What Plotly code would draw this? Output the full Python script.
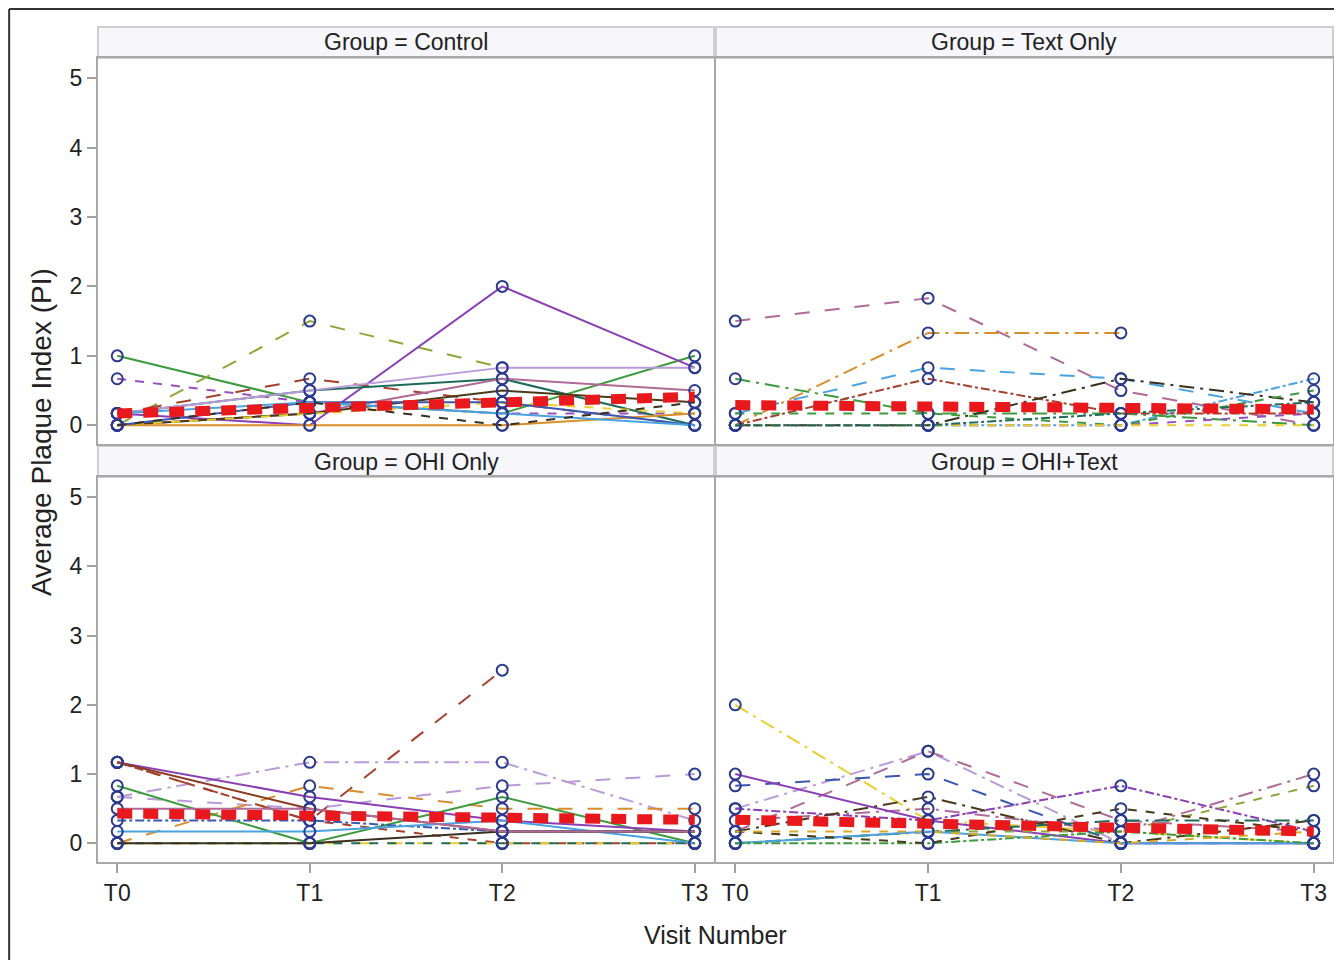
import plotly.graph_objects as go

visits = ["T0", "T1", "T2", "T3"]
y_ticks = [0, 1, 2, 3, 4, 5]
groups = ["Control", "Text Only", "OHI Only", "OHI+Text"]

# subject trajectories (Average Plaque Index) per group
control_pi = [
    [1.0, 0.33, 0.17, 1.0],
    [0.0, 1.5, 0.83, None],
    [0.17, 0.0, 2.0, 0.83],
    [0.67, 0.33, 0.17, 0.17],
    [0.17, 0.67, 0.33, 0.0],
    [0.17, 0.5, 0.67, 0.0],
    [0.0, 0.17, 0.67, 0.5],
    [0.17, 0.5, 0.83, 0.83],
    [0.0, 0.17, 0.5, 0.33],
    [0.0, 0.17, 0.33, 0.17],
    [0.0, 0.0, 0.0, 0.17],
    [0.0, 0.33, 0.33, 0.0],
    [0.17, 0.33, 0.17, 0.0],
    [0.0, 0.33, 0.0, 0.33],
]
text_pi = [
    [1.5, 1.83, 0.5, 0.0],
    [0.0, 1.33, 1.33, None],
    [0.17, 0.83, 0.67, 0.17],
    [0.0, 0.0, 0.0, 0.67],
    [0.67, 0.17, 0.17, 0.0],
    [0.0, 0.67, 0.17, 0.17],
    [0.0, 0.0, 0.67, 0.33],
    [0.17, 0.17, 0.0, 0.5],
    [0.0, 0.0, 0.0, 0.17],
    [0.0, 0.0, 0.0, 0.0],
    [0.0, 0.0, 0.17, 0.33],
]
ohi_pi = [
    [1.17, 0.33, 2.5, None],
    [0.67, 1.17, 1.17, 0.33],
    [0.67, 0.5, 0.83, 1.0],
    [0.0, 0.83, 0.5, 0.5],
    [0.83, 0.0, 0.67, 0.0],
    [1.17, 0.67, 0.33, 0.17],
    [1.17, 0.5, 0.17, 0.17],
    [1.17, 0.33, 0.0, 0.0],
    [0.0, 0.0, 0.0, 0.0],
    [0.33, 0.33, 0.17, 0.17],
    [0.17, 0.17, 0.33, 0.0],
    [0.0, 0.0, 0.0, 0.0],
    [0.0, 0.0, 0.17, 0.17],
    [0.5, 0.5, 0.17, 0.17],
]
ohitext_pi = [
    [2.0, 0.33, 0.17, 0.0],
    [0.5, 1.33, 0.0, 0.0],
    [0.17, 1.33, 0.33, 0.17],
    [0.33, 0.5, 0.17, 1.0],
    [0.5, 0.33, 0.83, 0.17],
    [0.83, 1.0, 0.0, 0.0],
    [1.0, 0.33, 0.0, 0.0],
    [0.17, 0.67, 0.0, 0.33],
    [0.0, 0.17, 0.17, 0.83],
    [0.0, 0.17, 0.33, 0.33],
    [0.0, 0.17, 0.0, 0.0],
    [0.0, 0.0, 0.17, 0.0],
    [0.17, 0.0, 0.5, 0.17],
    [0.17, 0.17, 0.0, 0.17],
]
# group mean trajectories
control_mean = [0.17, 0.26, 0.34, 0.41]
text_mean = [0.29, 0.27, 0.25, 0.23]
ohi_mean = [0.43, 0.40, 0.37, 0.34]
ohitext_mean = [0.34, 0.29, 0.23, 0.17]

# styles
line_colors = ["#3E9A3E", "#8EA63C", "#8B3FB5", "#9A4FC0", "#A3412C", "#1F6B5B",
               "#B06A98", "#B99BD9", "#4A3A1A", "#E6CF2F", "#D88E2A", "#3A58B0",
               "#4AA3E0", "#3A3020"]
line_dashes = ["solid", "longdash", "solid", "dash", "longdash", "solid", "solid",
               "solid", "solid", "dash", "solid", "solid", "solid", "dash"]
text_colors = ["#B06A98", "#D88E2A", "#4AA3E0", "#4AA3E0", "#3E9A3E", "#A3412C",
               "#3A3020", "#3E9A3E", "#9A4FC0", "#E6CF2F", "#1F6B5B"]
text_dashes = ["longdash", "longdashdot", "longdash", "dashdot", "longdashdot", "dashdot",
               "longdashdot", "dash", "dash", "dash", "dashdot"]
ohi_colors = ["#A3412C", "#B99BD9", "#B99BD9", "#D88E2A", "#3E9A3E", "#8B3FB5",
              "#8A3A20", "#A3412C", "#E6CF2F", "#3A58B0", "#4AA3E0", "#1F6B5B",
              "#3A3020", "#B06A98"]
ohi_dashes = ["longdash", "longdashdot", "longdash", "longdash", "solid", "solid",
              "solid", "dash", "longdash", "dashdot", "solid", "dash", "solid", "solid"]
ot_colors = ["#E6CF2F", "#B99BD9", "#B06A98", "#B06A98", "#8B3FB5", "#3A58B0",
             "#8B3FB5", "#4A3A1A", "#8EA63C", "#1F6B5B", "#4AA3E0", "#3E9A3E",
             "#4A3A1A", "#D8A82A"]
ot_dashes = ["longdashdot", "longdashdot", "longdash", "longdashdot", "dashdot", "longdash",
             "solid", "longdashdot", "dash", "longdashdot", "solid", "dashdot",
             "dash", "dash"]

panel_data = [
    (control_pi, control_mean, line_colors, line_dashes),
    (text_pi, text_mean, text_colors, text_dashes),
    (ohi_pi, ohi_mean, ohi_colors, ohi_dashes),
    (ohitext_pi, ohitext_mean, ot_colors, ot_dashes),
]

OFF = 8  # page body margin
W, H = 1342 - OFF, 960 - OFF
ML = 98 - OFF
MT = 27 - OFF
MR = W - (1335 - OFF)
MB = H - (862 - OFF)
PW = W - ML - MR
PH = H - MT - MB


def px_x(p):
    return (p - OFF - ML) / PW


def px_y(p):
    return (H - MB - (p - OFF)) / PH


x_domains = [[px_x(98), px_x(715)], [px_x(717), px_x(1335)]]
y_domains = [[px_y(444), px_y(58)], [px_y(862), px_y(477)]]
header_y = [[px_y(58), px_y(27)], [px_y(477), px_y(446)]]

fig = go.Figure()
FONT = "Liberation Sans, Arial, sans-serif"
marker_color = "#2B3A8F"

layout = dict(
    width=W, height=H,
    margin=dict(l=ML, r=MR, t=MT, b=MB),
    paper_bgcolor="white", plot_bgcolor="white",
    showlegend=False,
    font=dict(family=FONT, size=22, color="#222222"),
)
shapes = []
annotations = []

for i, (subjects, mean, colors, dashes) in enumerate(panel_data):
    r, c = divmod(i, 2)
    idx = i + 1
    xa = "x" if idx == 1 else f"x{idx}"
    ya = "y" if idx == 1 else f"y{idx}"
    for s, vals in enumerate(subjects):
        fig.add_trace(go.Scatter(
            x=[0, 1, 2, 3], y=vals, xaxis=xa, yaxis=ya, mode="lines+markers",
            line=dict(color=colors[s % len(colors)], width=2, dash=dashes[s % len(dashes)]),
            marker=dict(symbol="circle-open", size=11, color=marker_color,
                        line=dict(width=2, color=marker_color)),
            connectgaps=False, hoverinfo="skip"))
    fig.add_trace(go.Scatter(
        x=[0, 1, 2, 3], y=mean, xaxis=xa, yaxis=ya, mode="lines",
        line=dict(color="#E8181C", width=10, dash="15px,11px"), hoverinfo="skip"))

    xkey = "xaxis" if idx == 1 else f"xaxis{idx}"
    ykey = "yaxis" if idx == 1 else f"yaxis{idx}"
    layout[xkey] = dict(
        domain=x_domains[c], range=[-0.1, 3.1], anchor=ya,
        tickvals=[0, 1, 2, 3], ticktext=visits,
        showticklabels=(r == 1), ticks="outside" if r == 1 else "",
        ticklen=9, tickcolor="#A0A0A0", tickwidth=1.5,
        showgrid=False, zeroline=False, showline=True, mirror=True,
        linecolor="#A8A8A8", linewidth=2,
        tickfont=dict(size=23, family=FONT, color="#222222"))
    layout[ykey] = dict(
        domain=y_domains[r], range=[-0.27, 5.29], anchor=xa,
        tickvals=y_ticks, showticklabels=(c == 0), ticks="outside" if c == 0 else "",
        ticklen=9, tickcolor="#A0A0A0", tickwidth=1.5,
        showgrid=False, zeroline=False, showline=True, mirror=True,
        linecolor="#A8A8A8", linewidth=2,
        tickfont=dict(size=23, family=FONT, color="#222222"))

    # header strip
    shapes.append(dict(type="rect", xref="paper", yref="paper",
                       x0=x_domains[c][0], x1=x_domains[c][1],
                       y0=header_y[r][0], y1=header_y[r][1],
                       fillcolor="#F6F6FB", line=dict(color="#CFCFCF", width=2), layer="below"))
    annotations.append(dict(
        text=f"Group = {groups[i]}", xref="paper", yref="paper",
        x=(x_domains[c][0] + x_domains[c][1]) / 2,
        y=(header_y[r][0] + header_y[r][1]) / 2,
        showarrow=False, xanchor="center", yanchor="middle",
        font=dict(size=23, family=FONT, color="#222222")))

# outer frame
shapes.append(dict(type="line", xref="paper", yref="paper",
                   x0=px_x(9), x1=px_x(9), y0=px_y(9), y1=px_y(965),
                   line=dict(color="#333333", width=2)))
shapes.append(dict(type="line", xref="paper", yref="paper",
                   x0=px_x(9), x1=px_x(1345), y0=px_y(9), y1=px_y(9),
                   line=dict(color="#333333", width=2)))

annotations.append(dict(text="Average Plaque Index (PI)", xref="paper", yref="paper",
                        x=px_x(41), y=px_y(432), textangle=-90, showarrow=False,
                        xanchor="center", yanchor="middle",
                        font=dict(size=28, family=FONT, color="#222222")))
annotations.append(dict(text="Visit Number", xref="paper", yref="paper",
                        x=px_x(716), y=px_y(935), showarrow=False,
                        xanchor="center", yanchor="middle",
                        font=dict(size=25, family=FONT, color="#222222")))

layout["shapes"] = shapes
layout["annotations"] = annotations
fig.update_layout(**layout)
fig.write_html("out.html")
